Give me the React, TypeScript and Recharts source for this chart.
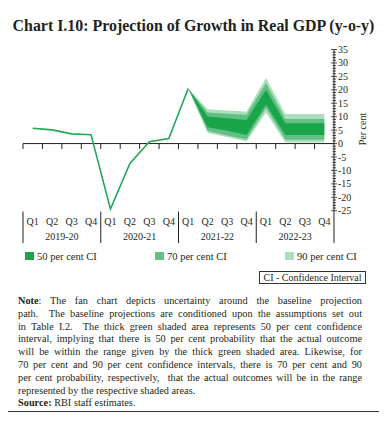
import React from 'react';
import { ComposedChart, Area, Line, XAxis, YAxis, ReferenceLine } from 'recharts';

const quarters = ['Q1','Q2','Q3','Q4','Q1','Q2','Q3','Q4','Q1','Q2','Q3','Q4','Q1','Q2','Q3','Q4'];
const years = ['2019-20', '2020-21', '2021-22', '2022-23'];
const actual = [5.7, 5.1, 3.6, 3.3, -24.4, -7.4, 0.7, 1.9, 20.5];
// projection bands start at Q1 2021-22 (index 8)
const lo90 = [20.5, 3.9, 2.4, 0.8, 11.6, 0.4, 0.4, 0.4];
const hi90 = [20.5, 12.8, 12.3, 11.9, 24.4, 11.0, 11.0, 11.0];
const lo70 = [20.5, 4.7, 3.0, 1.6, 13.2, 1.4, 1.4, 1.4];
const hi70 = [20.5, 11.6, 11.1, 10.7, 22.5, 9.1, 9.1, 9.1];
const lo50 = [20.5, 6.1, 4.8, 3.2, 14.4, 3.2, 3.2, 3.2];
const hi50 = [20.5, 10.1, 9.4, 8.8, 20.0, 7.6, 7.6, 7.6];
const yTicks: number[] = [];
for (let v = -25; v <= 35; v++) yTicks.push(v);
const projStart = 8;

const data = quarters.map((q, i) => {
  const j = i - projStart;
  return {
    x: i,
    q,
    actual: i < actual.length ? actual[i] : null,
    b90: j >= 0 ? [lo90[j], hi90[j]] : null,
    b70: j >= 0 ? [lo70[j], hi70[j]] : null,
    b50: j >= 0 ? [lo50[j], hi50[j]] : null,
  };
});

const C_DARK = '#1aa54b';
const C_MID = '#63c084';
const C_LIGHT = '#aedfbd';
const C_LINE = '#22a852';
const TXT = '#231f20';
const FONT = '"Liberation Serif", serif';

const PLOT_BOTTOM = 235;

const QTick = (props: any) => {
  const { x, payload } = props;
  return (
    <text x={x} y={PLOT_BOTTOM - 22} textAnchor="middle" dominantBaseline="central" fontSize={10} fill={TXT} fontFamily={FONT}>
      {quarters[payload.value]}
    </text>
  );
};

const YrTick = (props: any) => {
  const { x, payload } = props;
  const idx = Math.floor(payload.value / 4);
  return (
    <text x={x} y={PLOT_BOTTOM - 7} textAnchor="middle" dominantBaseline="central" fontSize={10} fill={TXT} fontFamily={FONT}>
      {years[idx]}
    </text>
  );
};

const YTick = (props: any) => {
  const { x, y, payload } = props;
  const v = payload.value;
  const major = v % 5 === 0;
  return (
    <g>
      <line x1={major ? x - 3 : x - 1.5} x2={major ? x + 3 : x + 2} y1={y} y2={y} stroke={TXT} strokeWidth={0.8} />
      {major && (
        <text x={x + 4} y={y} dominantBaseline="central" fontSize={10} fill={TXT} fontFamily={FONT}>
          {v}
        </text>
      )}
    </g>
  );
};

const boundaries = [-0.5, 0.5, 1.5, 2.5, 3.5, 4.5, 5.5, 6.5, 7.5, 8.5, 9.5, 10.5, 11.5, 12.5, 13.5, 14.5];
const separators = [-0.5, 3.5, 7.5, 11.5];

const noteLines = [
  'The fan chart depicts uncertainty around the baseline projection',
  'path.  The baseline projections are conditioned upon the assumptions set out',
  'in Table I.2.  The thick green shaded area represents 50 per cent confidence',
  'interval, implying that there is 50 per cent probability that the actual outcome',
  'will be within the range given by the thick green shaded area. Likewise, for',
  '70 per cent and 90 per cent confidence intervals, there is 70 per cent and 90',
  'per cent probability, respectively,  that the actual outcomes will be in the range',
];

const legendItems = [
  { label: '50 per cent CI', color: C_DARK, left: 17 },
  { label: '70 per cent CI', color: C_MID, left: 147 },
  { label: '90 per cent CI', color: C_LIGHT, left: 277 },
];

export default function App() {
  return (
    <div style={{ position: 'relative', width: 371, height: 403, border: '1px solid #333', margin: '-1px 0 0 -1px', fontFamily: FONT, color: TXT, background: '#fff' }}>
      <div style={{ position: 'absolute', top: 8, left: 0, width: 371, textAlign: 'center', fontWeight: 'bold', fontSize: 15.9, lineHeight: '20px' }}>
        Chart I.10: Projection of Growth in Real GDP (y-o-y)
      </div>
      <div style={{ position: 'absolute', left: 0, top: 0 }}>
        <ComposedChart width={371} height={PLOT_BOTTOM + 20} data={data} margin={{ top: 41.5, left: 15, right: 5, bottom: 0 }}>
          <XAxis dataKey="x" type="number" domain={[-0.5, 15.5]} ticks={[0,1,2,3,4,5,6,7,8,9,10,11,12,13,14,15]} interval={0}
            axisLine={false} tickLine={false} height={10} tick={<QTick />} allowDataOverflow />
          <XAxis xAxisId="yr" dataKey="x" type="number" domain={[-0.5, 15.5]} ticks={[1.5, 5.5, 9.5, 13.5]} interval={0}
            axisLine={false} tickLine={false} height={10} tick={<YrTick />} allowDataOverflow />
          <YAxis orientation="right" width={40} domain={[-37, 35]} ticks={yTicks} interval={0} allowDataOverflow
            axisLine={{ stroke: TXT, strokeWidth: 1 }} tickLine={false} tickSize={0} tickMargin={0} tick={<YTick />} />
          <Area dataKey="b90" type="linear" stroke="none" fill={C_LIGHT} fillOpacity={1} isAnimationActive={false} connectNulls={false} />
          <Area dataKey="b70" type="linear" stroke="none" fill={C_MID} fillOpacity={1} isAnimationActive={false} connectNulls={false} />
          <Area dataKey="b50" type="linear" stroke="none" fill={C_DARK} fillOpacity={1} isAnimationActive={false} connectNulls={false} />
          <ReferenceLine y={0} stroke={TXT} strokeWidth={1} />
          {boundaries.map((b) => (
            <ReferenceLine key={'t' + b} segment={[{ x: b, y: 0 }, { x: b, y: -2 }]} stroke={TXT} strokeWidth={1} />
          ))}
          {separators.map((b) => (
            <ReferenceLine key={'s' + b} segment={[{ x: b, y: -25.3 }, { x: b, y: -37 }]} stroke={TXT} strokeWidth={1} />
          ))}
          <Line dataKey="actual" type="linear" stroke={C_LINE} strokeWidth={1.6} dot={false} isAnimationActive={false} connectNulls={false} />
        </ComposedChart>
      </div>
      <div style={{ position: 'absolute', left: 335, top: 115, width: 40, height: 12, transform: 'rotate(-90deg)', transformOrigin: 'center', fontSize: 10, textAlign: 'center', lineHeight: '12px', whiteSpace: 'nowrap' }}>
        Per cent
      </div>
      {legendItems.map((it) => (
        <div key={it.label} style={{ position: 'absolute', left: it.left, top: 242, height: 12, display: 'flex', alignItems: 'center', fontSize: 10.5, whiteSpace: 'nowrap' }}>
          <span style={{ display: 'inline-block', width: 9, height: 8, background: it.color, marginRight: 3 }} />
          {it.label}
        </div>
      ))}
      <div style={{ position: 'absolute', left: 251, top: 263, width: 105, height: 11, border: '1px solid #333', fontSize: 10, lineHeight: '11px', textAlign: 'center', whiteSpace: 'nowrap' }}>
        CI - Confidence Interval
      </div>
      <div style={{ position: 'absolute', left: 10, top: 287, width: 344, fontSize: 10.3, lineHeight: '12.8px' }}>
        {noteLines.map((l, i) => (
          <div key={i} style={{ textAlign: 'justify', textAlignLast: 'justify', whiteSpace: 'pre' as any }}>
            {i === 0 ? <><b>Note</b>: {l}</> : l}
          </div>
        ))}
        <div>represented by the respective shaded areas.</div>
        <div><b>Source:</b> RBI staff estimates.</div>
      </div>
    </div>
  );
}
